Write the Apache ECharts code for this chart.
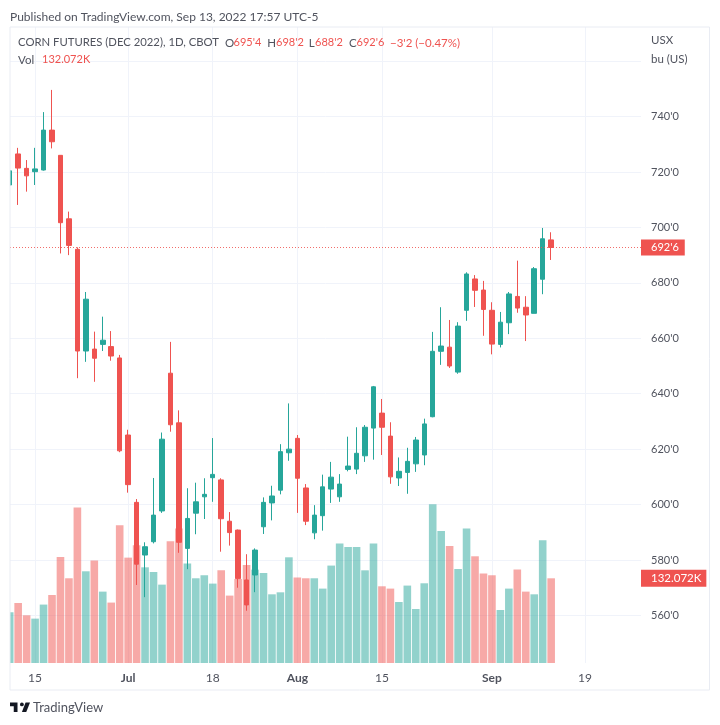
<!DOCTYPE html>
<html><head><meta charset="utf-8">
<script src="https://cdn.jsdelivr.net/npm/echarts@6/dist/echarts.min.js"></script>
<style>html,body{margin:0;padding:0;background:#fff}#c{width:720px;height:725px}</style>
</head><body><div id="c"></div>
<script>
const barIndex = Array.from({length:65},(_, i)=>i);
const opens  = [715.3,726.5,721.3,720.1,720.7,735.1,726,703.1,692.1,655.4,656.1,657.8,657,652.9,625.1,600.8,581.8,586.6,597.7,647.4,629.5,584.2,596.9,602.8,609.7,608.9,594,590.8,572.8,574.6,592,600.6,605.2,618.7,623.9,606,589.8,596,605.6,602.8,612.7,612.8,617.6,627.6,633,624.7,609.6,611.6,614.7,617.9,631.7,655.3,656.8,647.8,670.1,681.4,677.4,670.1,657.8,665.6,675.1,671.2,669,681.3,695.5];
const closes = [720.4,721.4,718.6,721.1,735.1,730.9,701.7,693.5,655.4,674.1,652.8,659.3,653.6,619.4,607.2,578.5,584.8,596.2,623.6,628.8,586.4,595,601,603.7,610.9,594.9,589.9,573.3,563.8,583.6,600.8,603.1,619.1,620,609.5,594,596.2,606.4,609.9,607.4,613.9,618.5,627.9,642.5,627.9,610,612,615.6,623.3,629.1,655.3,657.2,650,664.4,683.2,677.3,670.4,657.9,665.8,676,670.9,668.4,685.1,695.9,692.75];
const lows   = [715,708.1,712.9,715.3,720.5,728.5,690.6,690,645.6,651.5,644.3,655.4,651.9,618.9,604.3,571,566.6,586,597,626.3,582.6,576.7,589.3,594.8,601,583,585.2,570,561.7,568.4,589.4,594.3,603.7,615.8,597,592.6,587.5,590.6,600.6,601,612,611,615.4,616.2,617.9,607.5,606.7,603.9,611.8,614.2,631.5,650.4,649.3,647.2,666.3,671.3,660.9,654.2,656.7,661.5,669.2,659,669,675.9,688.25];
const highs  = [721,728.7,724.3,728.7,741.6,749.6,726,705.7,692.8,676.7,662.4,667.8,662.6,654,627,602,586.4,609.6,626,658.7,634,605.9,607.9,609.5,624,609.5,597.3,591,582.1,584.2,602.6,606.8,621.8,636.5,625.1,607.4,599.8,610.8,615.4,611,624.5,627.9,628.7,642.8,638.1,629.7,617,620.5,624.4,631,662.3,671.2,666.6,665.8,683.8,682.8,680.7,673,669.5,676.7,688,675.2,685.7,699.8,698.25];
const volumesK = [79.1,93.6,74.4,69.2,91.1,106,165.3,132.1,242.3,143,159.7,111.3,94.2,214.7,164.3,183.5,149.2,141.9,122.2,189.8,209.6,155,132.1,136.8,123.8,144.5,105.1,131,152.8,145.6,140.3,107.1,110.2,164.8,133.2,132.1,132.1,116,151.9,186.2,180.9,180.9,144.5,186.2,119.6,116,95.1,120.7,84.2,124.3,247.5,205.8,182.4,146.6,209.6,166.4,139.4,136.8,82.6,116,145.6,111.3,107.1,191.3,132.072];
const timeTicks = [3,14,24,34,44,57,68];
const timeLabels = ["15","Jul","18","Aug","15","Sep","19"];
const priceGrid = [560,580,600,620,640,660,680,700,720,740,760];
const priceLabels = [560,580,600,620,640,660,680,700,720,740];
const lastPrice = 692.75, lastPriceLabel = "692'6";
const lastVol = 132.072, lastVolLabel = "132.072K";

const UP='#26a69a', DOWN='#ef5350', FONT='Lato', FS=12, FSN=11, GRIDC='#f0f3fa', TXT='#50535e';
const chart = echarts.init(document.getElementById('c'),null,{renderer:'canvas'});
const grid = {left:10,top:27,width:631,height:636};
const txt=(left,top,text,fill,fontSize)=>({type:'text',left,top,z:10,style:{text,fill:fill||TXT,fontFamily:FONT,fontSize:fontSize||FS}});
chart.setOption({
  animation:false,
  backgroundColor:'#fff',
  textStyle:{fontFamily:FONT},
  grid:[grid],
  xAxis:[{type:'value',min:0.035,max:74.62,
    axisLine:{show:false},
    axisTick:{show:false,customValues:timeTicks},
    splitLine:{show:true,lineStyle:{color:GRIDC,width:1}},
    axisLabel:{customValues:timeTicks,margin:9,fontFamily:FONT,fontSize:FS,color:TXT,
      formatter:v=>{const l=timeLabels[timeTicks.indexOf(v)];return isNaN(+l)?'{b|'+l+'}':l;},
      rich:{b:{fontFamily:FONT,fontSize:FS,fontWeight:700,color:TXT}}}
  }],
  yAxis:[{type:'value',position:'right',min:542.85,max:772.3,scale:true,
      axisLine:{show:false},
      axisTick:{show:false,customValues:priceGrid},
      splitLine:{show:true,lineStyle:{color:GRIDC,width:1}},
      axisLabel:{customValues:priceLabels,margin:10,fontFamily:FONT,fontSize:FSN,color:TXT,formatter:v=>v+"'0"}
    },{type:'value',position:'right',min:0,max:991.7,show:false,splitLine:{show:false}}],
  series:[
    {type:'bar',name:'Vol',yAxisIndex:1,z:2,barWidth:7.6,clip:true,
     data:barIndex.map(i=>({value:[i,volumesK[i]],itemStyle:{color:closes[i]>=opens[i]?'rgba(38,166,154,0.5)':'rgba(239,83,80,0.5)'}})),
     markLine:{silent:true,symbol:'none',precision:3,lineStyle:{color:'rgba(0,0,0,0)',width:1},
       label:{show:true,position:'end',distance:0,formatter:lastVolLabel,backgroundColor:DOWN,color:'#fff',
         fontFamily:FONT,fontSize:FSN+0.5,fontWeight:400,padding:[3,5,2,10]},
       data:[{yAxis:lastVol}]}
    },
    {type:'candlestick',name:'CORN',z:3,barWidth:5,clip:true,
     itemStyle:{color:UP,color0:DOWN,borderColor:UP,borderColor0:DOWN,borderWidth:1},
     encode:{x:0,y:[1,2,3,4]},
     data:barIndex.map(i=>[i,opens[i],closes[i],lows[i],highs[i]]),
     markLine:{silent:true,symbol:'none',precision:2,
       lineStyle:{color:'rgba(239,83,80,0.85)',type:[1,2],width:1},
       label:{show:true,position:'end',distance:0,formatter:lastPriceLabel,backgroundColor:DOWN,color:'#fff',
         fontFamily:FONT,fontSize:FSN,padding:[3,6,2,10]},
       data:[{yAxis:lastPrice}]}
    }
  ],
  graphic:[
    {type:'rect',z:100,silent:true,shape:{x:0,y:27,width:10,height:640},style:{fill:'#fff'}},
    {type:'rect',z:101,silent:true,shape:{x:10,y:27,width:699.5,height:663},style:{fill:'none',stroke:'#e9ecf3',lineWidth:1}},
    txt(10,11,'Published on TradingView.com, Sep 13, 2022 17:57 UTC-5'),
    txt(18,37,'CORN FUTURES (DEC 2022), 1D, CBOT',TXT,11.3),
    txt(225,37,'O',TXT,11.5), txt(233.5,37,"695'4",DOWN,FSN),
    txt(267.3,37,'H',TXT,11.5), txt(276,37,"698'2",DOWN,FSN),
    txt(308.7,37,'L',TXT,11.5), txt(315,37,"688'2",DOWN,FSN),
    txt(349,37,'C',TXT,11.5), txt(356.5,37,"692'6",DOWN,FSN),
    txt(390,37,"−3'2 (−0.47%)",DOWN,FSN+0.5),
    txt(18,54,'Vol',TXT,11.5), txt(42,54,'132.072K',DOWN,FSN),
    txt(651,34,'USX',TXT,11.5),
    txt(651,53,'bu (US)',TXT,11.5),
    {type:'polygon',shape:{points:[[17.5,702.5],[10,702.5],[10,706.25],[13.75,706.25],[13.75,711.9],[17.5,711.9]]},style:{fill:'#131722'}},
    {type:'polygon',shape:{points:[[26.25,711.9],[21.9,711.9],[25.6,702.5],[30,702.5]]},style:{fill:'#131722'}},
    {type:'circle',shape:{cx:21.9,cy:704.4,r:1.9},style:{fill:'#131722'}},
    {type:'text',left:33,top:701,style:{text:'TradingView',fontFamily:FONT,fontSize:13,fill:'#50535e'}}
  ]
});
</script></body></html>
